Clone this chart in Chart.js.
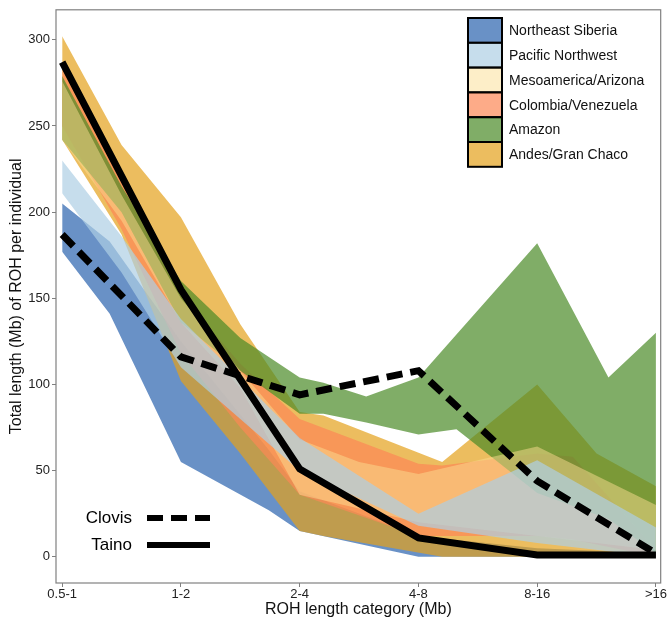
<!DOCTYPE html>
<html>
<head>
<meta charset="utf-8">
<script src="https://cdn.jsdelivr.net/npm/chart.js@4.4.0/dist/chart.umd.min.js"></script>
<style>
  html, body { margin: 0; padding: 0; background: #fff; }
  canvas { display: block; }
</style>
</head>
<body>
<canvas id="roh-chart" width="667" height="630"></canvas>
<script>
const categories = ['0.5-1', '1-2', '2-4', '4-8', '8-16', '>16'];
const yTicks = [0, 50, 100, 150, 200, 250, 300];

// ancient genomes, one value per category
const clovis = [187, 116, 94, 108, 44, 2];
const taino = [287, 155, 51, 11, 1, 1];

// ranges per population group (x = category index, fractions between categories)
const siberiaX = [0, 0.4, 1, 1.74, 2, 3, 4, 5];
const siberiaHi = [205, 183, 125, 62, 38, 12, 5, 2];
const siberiaLo = [177, 141, 55, 27, 15, 0, 0, 0];

const pacificX = [0, 0.5, 1, 2, 3, 4, 5];
const pacificHi = [230, 186, 138, 69, 25, 56, 17];
const pacificLo = [211, 165, 110, 50, 18, 8, 0];

const mesoX = [0, 0.5, 1, 1.5, 2, 2.5, 3, 4, 5];
const mesoHi = [276, 210, 150, 108, 68, 55, 48, 64, 30];
const mesoLo = [242, 195, 136, 98, 36, 28, 20, 12, 4];

const colombiaX = [0, 0.5, 1, 1.5, 2, 3, 3.2, 4, 4.3, 5];
const colombiaHi = [283, 218, 152, 112, 80, 54, 53, 60, 58, 4];
const colombiaLo = [250, 190, 118, 75, 36, 12, 12, 12, 10, 0];

const amazonX = [0, 0.5, 1, 1.5, 2, 2.2, 2.56, 3, 3.32, 4, 4.6, 5];
const amazonHi = [279, 215, 160, 127, 104, 101, 93, 104, 129, 182, 104, 130];
const amazonLo = [242, 200, 136, 108, 83, 83, 78, 71, 74, 37, 22, 2];

const andesX = [0, 0.5, 1, 1.5, 2, 2.2, 3.2, 4, 4.5, 5];
const andesHi = [302, 239, 197, 135, 84, 82, 55, 100, 60, 41];
const andesLo = [242, 187, 102, 60, 15, 12, 0, 0, 0, 0];

const regionNames = ['Northeast Siberia', 'Pacific Northwest', 'Mesoamerica/Arizona',
  'Colombia/Venezuela', 'Amazon', 'Andes/Gran Chaco'];
const regionColors = ['rgba(42,99,174,0.7)', 'rgba(174,206,228,0.7)', 'rgba(251,221,145,0.5)',
  'rgba(252,136,85,0.7)', 'rgba(74,138,39,0.7)', 'rgba(228,161,27,0.7)'];

const FONT = "'Liberation Sans', Arial, Helvetica, sans-serif";

function pts(xs, ys) {
  return xs.map((x, i) => ({ x: x, y: ys[i] }));
}

// lower edge + upper edge filled to it; bigger order = drawn underneath
function band(idx, xs, lo, hi, order) {
  return [
    { label: regionNames[idx] + ' low', data: pts(xs, lo), borderWidth: 0, borderColor: 'rgba(0,0,0,0)',
      pointRadius: 0, fill: false, order: order },
    { label: regionNames[idx], data: pts(xs, hi), borderWidth: 0, borderColor: 'rgba(0,0,0,0)',
      pointRadius: 0, fill: '-1', backgroundColor: regionColors[idx], order: order }
  ];
}

const datasets = [
  ...band(0, siberiaX, siberiaLo, siberiaHi, 16),
  ...band(5, andesX, andesLo, andesHi, 15),
  ...band(3, colombiaX, colombiaLo, colombiaHi, 14),
  ...band(4, amazonX, amazonLo, amazonHi, 13),
  ...band(2, mesoX, mesoLo, mesoHi, 12),
  ...band(1, pacificX, pacificLo, pacificHi, 11),
  { label: 'Clovis', data: categories.map((c, i) => ({ x: i, y: clovis[i] })), borderColor: '#000',
    borderWidth: 7, borderDash: [16, 8], borderCapStyle: 'butt', borderJoinStyle: 'miter',
    pointRadius: 0, fill: false, order: 2 },
  { label: 'Taino', data: categories.map((c, i) => ({ x: i, y: taino[i] })), borderColor: '#000',
    borderWidth: 7, borderCapStyle: 'butt', borderJoinStyle: 'miter',
    pointRadius: 0, fill: false, order: 1 }
];

const frame = {
  id: 'frame',
  afterDatasetsDraw(chart) {
    const { ctx, chartArea: a } = chart;
    ctx.save();
    ctx.strokeStyle = '#808080';
    ctx.lineWidth = 1.2;
    ctx.strokeRect(a.left, a.top, a.right - a.left, a.bottom - a.top);
    ctx.restore();
  }
};

const legends = {
  id: 'legends',
  afterDraw(chart) {
    const ctx = chart.ctx;
    ctx.save();
    // region legend, top right
    const x0 = 468, y0 = 18, w = 34, h = 24.8;
    ctx.font = '14px ' + FONT;
    ctx.textBaseline = 'middle';
    ctx.textAlign = 'left';
    regionNames.forEach((name, i) => {
      const y = y0 + i * h;
      ctx.fillStyle = regionColors[i];
      ctx.fillRect(x0, y, w, h);
      ctx.strokeStyle = '#000';
      ctx.lineWidth = 2;
      ctx.strokeRect(x0, y, w, h);
      ctx.fillStyle = '#111';
      ctx.fillText(name, 509, y + h / 2 + 1);
    });
    // ancient samples legend, bottom left
    ctx.font = '17px ' + FONT;
    ctx.textAlign = 'right';
    ctx.fillStyle = '#000';
    ctx.fillText('Clovis', 132, 518);
    ctx.fillText('Taino', 132, 545);
    ctx.strokeStyle = '#000';
    ctx.lineWidth = 6;
    ctx.lineCap = 'butt';
    ctx.setLineDash([16, 8]);
    ctx.beginPath(); ctx.moveTo(147, 518); ctx.lineTo(210, 518); ctx.stroke();
    ctx.setLineDash([]);
    ctx.beginPath(); ctx.moveTo(147, 545); ctx.lineTo(210, 545); ctx.stroke();
    ctx.restore();
  }
};

new Chart(document.getElementById('roh-chart'), {
  type: 'line',
  data: { datasets: datasets },
  options: {
    responsive: false,
    animation: false,
    devicePixelRatio: 1,
    layout: { padding: { top: 6, right: 4, left: 0, bottom: 0 }, autoPadding: false },
    plugins: { legend: { display: false }, tooltip: { enabled: false } },
    elements: { line: { tension: 0 } },
    scales: {
      x: {
        type: 'linear',
        min: -0.052,
        max: 5.04,
        afterBuildTicks: (axis) => { axis.ticks = categories.map((c, i) => ({ value: i })); },
        afterFit: (axis) => { axis.height = 47; },
        ticks: {
          callback: (v) => categories[v],
          font: { family: FONT, size: 13 },
          color: '#222',
          padding: 0,
          maxRotation: 0,
          autoSkip: false
        },
        grid: { drawOnChartArea: false, drawTicks: true, tickLength: 4, color: '#808080' },
        border: { display: false },
        title: {
          display: true,
          text: 'ROH length category (Mb)',
          font: { family: FONT, size: 16 },
          color: '#111',
          padding: { top: 0, bottom: 11 }
        }
      },
      y: {
        type: 'linear',
        min: -15.2,
        max: 317.4,
        afterBuildTicks: (axis) => { axis.ticks = yTicks.map(v => ({ value: v })); },
        afterFit: (axis) => { axis.width = 56; },
        ticks: {
          font: { family: FONT, size: 13 },
          color: '#222',
          padding: 2
        },
        grid: { drawOnChartArea: false, drawTicks: true, tickLength: 4, color: '#808080' },
        border: { display: false },
        title: {
          display: true,
          text: 'Total length (Mb) of ROH per individual',
          font: { family: FONT, size: 16 },
          color: '#111',
          padding: { top: 7, bottom: 0 }
        }
      }
    }
  },
  plugins: [frame, legends]
});
</script>
</body>
</html>
